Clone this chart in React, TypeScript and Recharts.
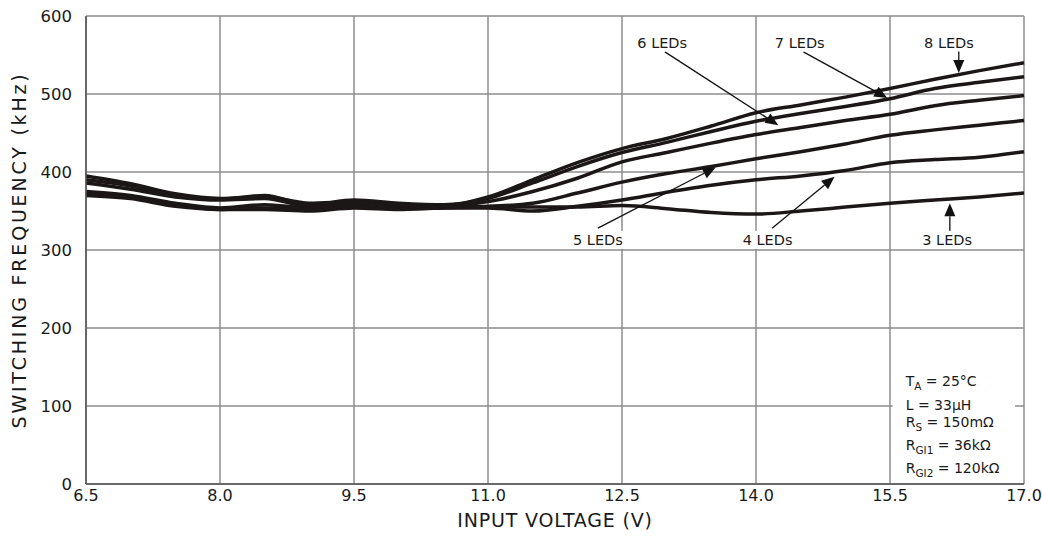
import React from "react";
import {
	LineChart,
	Line,
	XAxis,
	YAxis,
	CartesianGrid,
	ReferenceLine,
	ReferenceDot,
	ReferenceArea,
} from "recharts";

const voltage = [6.5, 7.0, 7.5, 8.0, 8.5, 9.0, 9.5, 10.0, 10.5, 11.0, 11.5, 12.0, 12.5, 13.0, 13.5, 14.0, 14.5, 15.0, 15.5, 16.0, 16.5, 17.0];

const leds8 = [395, 385, 372, 366, 368, 360, 362, 358, 357, 368, 390, 412, 430, 443, 459, 476, 486, 496, 507, 519, 530, 540];
const leds7 = [390, 382, 370, 365, 370, 358, 364, 360, 358, 366, 386, 407, 425, 438, 452, 465, 475, 484, 494, 507, 515, 522];
const leds6 = [386, 378, 368, 364, 366, 356, 360, 357, 356, 362, 375, 392, 413, 425, 437, 448, 457, 466, 474, 485, 492, 498];
const leds5 = [375, 370, 360, 354, 358, 354, 356, 354, 355, 356, 360, 373, 387, 398, 407, 417, 426, 436, 447, 454, 460, 466];
const leds4 = [372, 368, 358, 352, 352, 350, 354, 352, 354, 354, 350, 356, 364, 374, 383, 390, 395, 402, 412, 416, 419, 426];
const leds3 = [370, 366, 356, 352, 354, 352, 355, 353, 354, 355, 355, 355, 357, 353, 348, 346, 350, 355, 360, 364, 368, 373];

const xTicks = [6.5, 8.0, 9.5, 11.0, 12.5, 14.0, 15.5, 17.0];
const yTicks = [0, 100, 200, 300, 400, 500, 600];

const seriesKeys = ["leds8", "leds7", "leds6", "leds5", "leds4", "leds3"];

// arrow callouts, in data units (volts, kHz)
const callouts = [
	{ text: "6 LEDs", lx: 12.95, ly: 566, x1: 12.98, y1: 554, x2: 14.25, y2: 460 },
	{ text: "7 LEDs", lx: 14.49, ly: 566, x1: 14.53, y1: 554, x2: 15.47, y2: 495 },
	{ text: "8 LEDs", lx: 16.16, ly: 566, x1: 16.27, y1: 555, x2: 16.27, y2: 527 },
	{ text: "5 LEDs", lx: 12.23, ly: 313, x1: 12.23, y1: 328, x2: 13.55, y2: 406 },
	{ text: "4 LEDs", lx: 14.13, ly: 313, x1: 14.18, y1: 328, x2: 14.88, y2: 394 },
	{ text: "3 LEDs", lx: 16.14, ly: 313, x1: 16.17, y1: 323, x2: 16.17, y2: 360 },
];

const data = voltage.map((v, i) => ({
	v,
	leds8: leds8[i],
	leds7: leds7[i],
	leds6: leds6[i],
	leds5: leds5[i],
	leds4: leds4[i],
	leds3: leds3[i],
}));

const FONT = "'DejaVu Sans', sans-serif";
const INK = "#1c1717";

function Arrow(props: any) {
	const { x1, y1, x2, y2 } = props;
	const dx = x2 - x1;
	const dy = y2 - y1;
	const len = Math.hypot(dx, dy) || 1;
	const ux = dx / len;
	const uy = dy / len;
	const head = 13;
	const half = 5.5;
	const bx = x2 - ux * head;
	const by = y2 - uy * head;
	const pts = `${x2},${y2} ${bx - uy * half},${by + ux * half} ${bx + uy * half},${by - ux * half}`;
	return (
		<g>
			<line x1={x1} y1={y1} x2={bx} y2={by} stroke="#111" strokeWidth={1.3} />
			<polygon points={pts} fill="#111" />
		</g>
	);
}

function CalloutLabel(text: string) {
	return (props: any) => {
		const { cx, cy } = props;
		return (
			<g>
				<rect x={cx - 28} y={cy - 9} width={56} height={18} fill="#fff" />
				<text
					x={cx}
					y={cy}
					textAnchor="middle"
					dominantBaseline="central"
					fontFamily={FONT}
					fontSize={14.5}
					fill="#1a1a1a"
				>
					{text}
				</text>
			</g>
		);
	};
}

function ConditionsBox(props: any) {
	const { x, y, width, height } = props;
	const tx = x + 13;
	const sub = { fontSize: 10.5 };
	return (
		<g fontFamily={FONT} fontSize={14} fill="#1a1a1a">
			<rect x={x} y={y} width={width} height={height} fill="#fff" />
			<text x={tx} y={y + 26}>
				T<tspan dy={4} {...sub}>A</tspan>
				<tspan dy={-4}> = 25°C</tspan>
			</text>
			<text x={tx} y={y + 50}>L = 33µH</text>
			<text x={tx} y={y + 67}>
				R<tspan dy={4} {...sub}>S</tspan>
				<tspan dy={-4}> = 150mΩ</tspan>
			</text>
			<text x={tx} y={y + 90}>
				R<tspan dy={4} {...sub}>GI1</tspan>
				<tspan dy={-4}> = 36kΩ</tspan>
			</text>
			<text x={tx} y={y + 113}>
				R<tspan dy={4} {...sub}>GI2</tspan>
				<tspan dy={-4}> = 120kΩ</tspan>
			</text>
		</g>
	);
}

export default function App() {
	return (
		<div
			style={{
				position: "absolute",
				left: 0,
				top: 0,
				width: 1042,
				height: 536,
				overflow: "hidden",
				background: "#fff",
			}}
		>
			<LineChart
				width={1042}
				height={536}
				data={data}
				margin={{ top: 16, right: 18, bottom: 0, left: 0 }}
				style={{ overflow: "visible" }}
			>
				<CartesianGrid stroke="#8c8c8c" strokeWidth={1.5} />
				<XAxis
					dataKey="v"
					type="number"
					domain={[6.5, 17]}
					ticks={xTicks}
					interval={0}
					height={52}
					tickLine={false}
					tickSize={0}
					tickMargin={6}
					axisLine={{ stroke: "#555", strokeWidth: 1.5 }}
					tickFormatter={(t) => Number(t).toFixed(1)}
					tick={{ fill: "#1a1a1a", fontSize: 16, fontFamily: FONT }}
					label={{
						value: "INPUT VOLTAGE (V)",
						position: "insideBottom",
						offset: 9,
						style: { fill: "#1a1a1a", fontSize: 19, letterSpacing: 0.8, fontFamily: FONT },
					}}
				/>
				<YAxis
					type="number"
					domain={[0, 600]}
					ticks={yTicks}
					interval={0}
					width={86}
					tickLine={false}
					tickSize={6}
					tickMargin={8}
					axisLine={{ stroke: "#555", strokeWidth: 1.5 }}
					tick={{ fill: "#1a1a1a", fontSize: 16.5, fontFamily: FONT }}
					label={{
						value: "SWITCHING FREQUENCY (kHz)",
						angle: -90,
						position: "insideLeft",
						offset: 19,
						style: {
							textAnchor: "middle",
							fill: "#1a1a1a",
							fontSize: 19,
							letterSpacing: 2.8,
							fontFamily: FONT,
						},
					}}
				/>
				<ReferenceArea x1={15.53} x2={16.9} y1={2} y2={159} shape={ConditionsBox} />
				{seriesKeys.map((k) => (
					<Line
						key={k}
						dataKey={k}
						type="monotone"
						stroke={INK}
						strokeWidth={3.5}
						dot={false}
						isAnimationActive={false}
					/>
				))}
				{callouts.map((c) => (
					<ReferenceLine
						key={c.text + "-arrow"}
						segment={[
							{ x: c.x1, y: c.y1 },
							{ x: c.x2, y: c.y2 },
						]}
						shape={Arrow}
					/>
				))}
				{callouts.map((c) => (
					<ReferenceDot
						key={c.text + "-label"}
						x={c.lx}
						y={c.ly}
						r={0}
						shape={CalloutLabel(c.text)}
					/>
				))}
			</LineChart>
		</div>
	);
}
